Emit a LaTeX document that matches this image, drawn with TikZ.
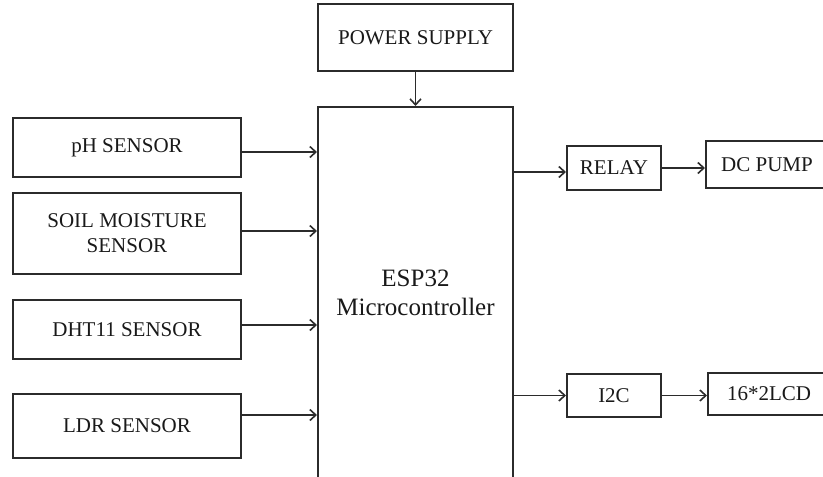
\documentclass[tikz,border=0pt]{standalone}
\usepackage{fontspec}
\setmainfont{Liberation Serif}
\usepackage{tikz}
\usetikzlibrary{positioning, arrows.meta, calc}
\definecolor{lineDark}{HTML}{2B2B2B}

\begin{document}
\begin{tikzpicture}[x=1pt, y=-1pt,
            block/.style={
              rectangle, draw=lineDark, line width=2pt,
              inner sep=0pt, align=center, text=black!90,
              font=\fontsize{21}{25}\selectfont
            },
            link/.style={
              draw=lineDark, line width=1.6pt,
              -{Straight Barb[length=6pt, width=11pt, line width=1.6pt]}
            }
          ]
          % Marco de la figura (823 x 477), lo que sale fuera queda recortado
          \useasboundingbox (0,0) rectangle (823,477);
          \clip (0,0) rectangle (823,477);

          % Fuente y controlador
          \node[block, minimum width=195pt, minimum height=67pt]
            (power) at (415.5, 37.5) {POWER SUPPLY};
          \node[block, minimum width=195pt, minimum height=393pt]
            (esp) at (415.5, 303.5) {};
          \node[align=center, text=black!90, font=\fontsize{25}{29}\selectfont]
            (esplbl) at (415.5, 293) {ESP32\\Microcontroller};

          % Sensores (entradas)
          \node[block, minimum width=228pt, minimum height=59pt]
            (ph) at (127, 147.5) {pH SENSOR};
          \node[block, minimum width=228pt, minimum height=81pt]
            (soil) at (127, 233.5) {SOIL MOISTURE\\SENSOR};
          \node[block, minimum width=228pt, minimum height=59pt]
            (dht) at (127, 329.5) {DHT11 SENSOR};
          \node[block, minimum width=228pt, minimum height=64pt]
            (ldr) at (127, 426) {LDR SENSOR};

          % Salidas
          \node[block, minimum width=94pt, minimum height=44pt]
            (relay) at (614, 168) {RELAY};
          \node[block, minimum width=122pt, minimum height=47pt]
            (pump) at (767, 164.5) {DC PUMP};
          \node[block, minimum width=94pt, minimum height=43pt]
            (i2c) at (614, 395.5) {I2C};
          \node[block, minimum width=122pt, minimum height=42pt]
            (lcd) at (769, 394) {16*2LCD};

          % Conexiones
          \draw[link] (power.south) -- (esp.north);
          \draw[link] ([yshift=-4.5pt]ph.east) -- ([yshift=-4.5pt]ph.east -| esp.west);
          \draw[link] ([yshift=2.5pt]soil.east) -- ([yshift=2.5pt]soil.east -| esp.west);
          \draw[link] ([yshift=4.5pt]dht.east) -- ([yshift=4.5pt]dht.east -| esp.west);
          \draw[link] ([yshift=11pt]ldr.east) -- ([yshift=11pt]ldr.east -| esp.west);
          \draw[link] ([yshift=-4pt]relay.west -| esp.east) -- ([yshift=-4pt]relay.west);
          \draw[link] (relay.east) -- (relay.east -| pump.west);
          \draw[link] (i2c.west -| esp.east) -- (i2c.west);
          \draw[link] (i2c.east) -- (i2c.east -| lcd.west);
        \end{tikzpicture}
\end{document}
